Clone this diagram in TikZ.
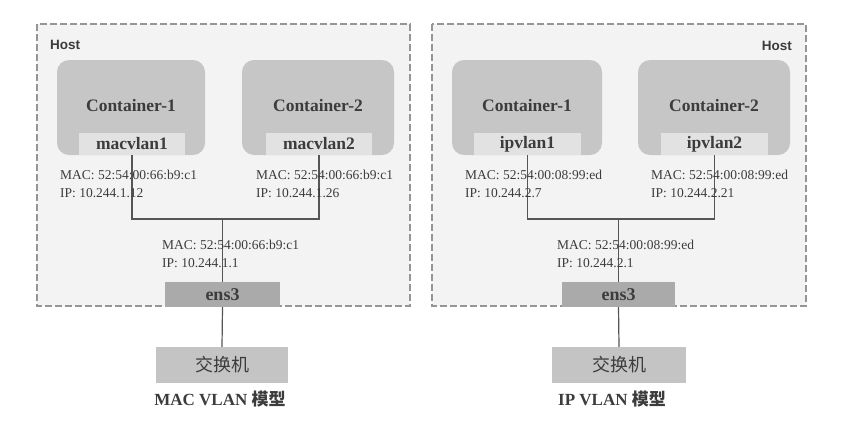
\documentclass[tikz,border=0pt]{standalone}
\usepackage{fontspec}
\setmainfont{Liberation Serif}
\setsansfont{Liberation Sans}
\newfontfamily\cjk{Noto Sans CJK SC}
\definecolor{hostbg}{HTML}{F3F3F3}
\definecolor{hostline}{HTML}{959595}
\definecolor{contfill}{HTML}{C6C6C6}
\definecolor{ifacefill}{HTML}{E2E2E2}
\definecolor{ensfill}{HTML}{AAAAAA}
\definecolor{swfill}{HTML}{C4C4C4}
\definecolor{txt}{HTML}{3C3C3C}
\definecolor{wire}{HTML}{555555}
\tikzset{
  hostbox/.style={draw=hostline, dashed, dash pattern=on 7pt off 3pt, line width=1.1pt, fill=hostbg},
  ifacebox/.style={fill=ifacefill, draw=none, inner sep=0pt, font=\bfseries\fontsize{17.5}{17.5}\selectfont, text=txt},
  ensbox/.style={fill=ensfill, draw=none, inner sep=0pt, font=\bfseries\fontsize{18}{18}\selectfont, text=txt},
  swbox/.style={fill=swfill, draw=none, inner sep=0pt, font=\cjk\fontsize{18}{18}\selectfont, text=txt},
  conttext/.style={font=\bfseries\fontsize{17.5}{17.5}\selectfont, text=txt, inner sep=0pt},
  addr/.style={font=\fontsize{13.5}{18}\selectfont, text=txt, align=left, inner sep=0pt, anchor=north west},
  hostlabel/.style={font=\sffamily\bfseries\fontsize{13.5}{13.5}\selectfont, text=txt, inner sep=0pt},
  caption/.style={font=\bfseries\fontsize{17}{17}\selectfont, text=txt, inner sep=0pt},
  wireline/.style={draw=wire, line width=1.2pt}
}
\begin{document}
\begin{tikzpicture}[x=1pt,y=-1pt]
\useasboundingbox[fill=white] (0,0) rectangle (842,423);
% ---------------- Left: MAC VLAN ----------------
\draw[hostbox] (37,24) rectangle (410,306);
\node[hostlabel, anchor=west] (hostL) at (50,45) {Host};
\fill[contfill] [rounded corners=12pt] (57,60) rectangle (205,155);
\fill[contfill] [rounded corners=12pt] (242,60) rectangle (394,155);
\node[conttext] (cL1) at (131,106) {Container-1};
\node[conttext] (cL2) at (318,106) {Container-2};
\node[ifacebox, minimum width=106pt, minimum height=22pt] (mv1) at (132,144) {macvlan1};
\node[ifacebox, minimum width=106pt, minimum height=22pt] (mv2) at (319,144) {macvlan2};
\node[ensbox, minimum width=115pt, minimum height=25pt] (ensL) at (222.5,294.5) {ens3};
\node[swbox, minimum width=132pt, minimum height=36pt] (swL) at (222,365) {交换机};
\node[caption] (capL) at (220,399) {MAC VLAN {\cjk 模型}};
\coordinate (jL) at (222.5,219);
\draw[wireline] (mv1.south) |- (jL) -| (mv2.south);
\draw[wireline] (jL) -- (ensL.north);
\draw[wireline] (ensL.south) -- (swL.north);
\node[addr] (aL1) at (60,170) {MAC: 52:54:00:66:b9:c1\\IP: 10.244.1.12};
\node[addr] (aL2) at (256,170) {MAC: 52:54:00:66:b9:c1\\IP: 10.244.1.26};
\node[addr] (aL3) at (162,240) {MAC: 52:54:00:66:b9:c1\\IP: 10.244.1.1};
% ---------------- Right: IP VLAN ----------------
\draw[hostbox] (432,24) rectangle (806,306);
\node[hostlabel, anchor=east] (hostR) at (792,46) {Host};
\fill[contfill] [rounded corners=12pt] (452,60) rectangle (602,155);
\fill[contfill] [rounded corners=12pt] (638,60) rectangle (790,155);
\node[conttext] (cR1) at (527,106) {Container-1};
\node[conttext] (cR2) at (714,106) {Container-2};
\node[ifacebox, minimum width=107pt, minimum height=22pt] (iv1) at (527.5,144) {ipvlan1};
\node[ifacebox, minimum width=107pt, minimum height=22pt] (iv2) at (714.5,144) {ipvlan2};
\node[ensbox, minimum width=113pt, minimum height=25pt] (ensR) at (618.5,294.5) {ens3};
\node[swbox, minimum width=134pt, minimum height=36pt] (swR) at (619,365) {交换机};
\node[caption] (capR) at (612,399) {IP VLAN {\cjk 模型}};
\coordinate (jR) at (618.5,219);
\draw[wireline] (iv1.south) |- (jR) -| (iv2.south);
\draw[wireline] (jR) -- (ensR.north);
\draw[wireline] (ensR.south) -- (swR.north);
\node[addr] (aR1) at (465,170) {MAC: 52:54:00:08:99:ed\\IP: 10.244.2.7};
\node[addr] (aR2) at (651,170) {MAC: 52:54:00:08:99:ed\\IP: 10.244.2.21};
\node[addr] (aR3) at (557,240) {MAC: 52:54:00:08:99:ed\\IP: 10.244.2.1};
\end{tikzpicture}
\end{document}
